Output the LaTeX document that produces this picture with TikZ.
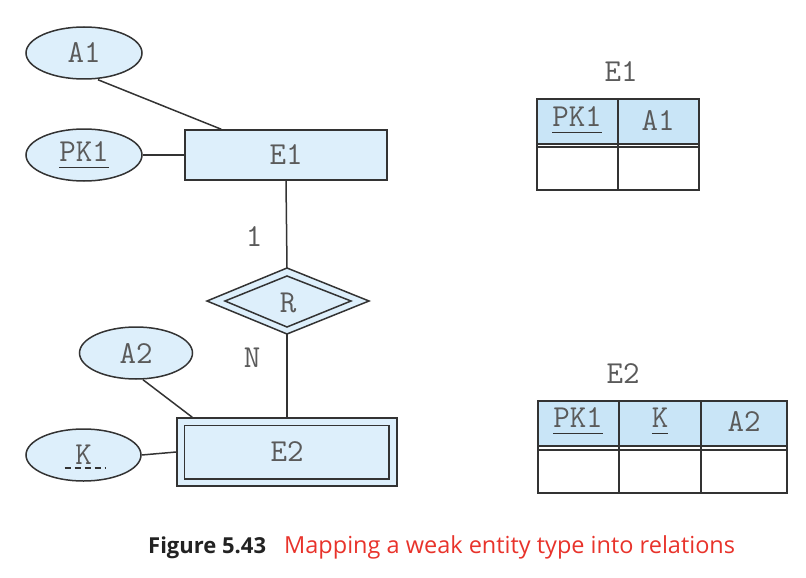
\documentclass[tikz,border=0pt]{standalone}
\usepackage{fontspec}
\newfontfamily\capfont{Open Sans}
\usetikzlibrary{shapes.geometric,calc}
\definecolor{fillb}{HTML}{DDEFFB}
\definecolor{headb}{HTML}{C9E5F7}
\definecolor{txt}{HTML}{5A5A5A}
\definecolor{ln}{HTML}{333333}
\definecolor{capred}{HTML}{E8332B}
\definecolor{capdark}{HTML}{222222}
\newcommand\myul[1]{\setbox0\hbox{#1}\rlap{\color{ln}\rule[-7pt]{\wd0}{1.6pt}}\box0}
\begin{document}
\begin{tikzpicture}[x=1pt,y=-1pt,
  every node/.style={font=\ttfamily\fontsize{32}{34}\selectfont, text=txt},
  attr/.style={ellipse, draw=ln, line width=1.5pt, fill=fillb, minimum width=116pt, minimum height=52pt, inner sep=0pt},
  ent/.style={rectangle, draw=ln, line width=1.5pt, fill=fillb, inner sep=0pt},
  conn/.style={draw=ln, line width=1.5pt},
  tline/.style={draw=ln, line width=1.6pt},
  lbl/.style={inner sep=0pt}]
\useasboundingbox (0,0) rectangle (806,578);

% ---- ER diagram ----
\node[attr] (A1) at (84,53) {A1};
\node[attr] (PK1) at (84,155) {\myul{PK1}};
\node[ent, minimum width=202pt, minimum height=50pt] (E1) at (286,155) {E1};

% relationship R (identifying)
\coordinate (Rc) at (287,301);
\coordinate (Rtop) at (287,268);
\coordinate (Rbot) at (287,334);
\filldraw[fill=fillb, draw=ln, line width=1.5pt] (207,301) -- (Rtop) -- (369,301) -- (Rbot) -- cycle;
\draw[ln, line width=1.5pt] (225,301) -- (287,276) -- (351,301) -- (287,327) -- cycle;
\node[lbl] (R) at (288,303) {R};

\node[attr, minimum width=113pt] (A2) at (136,353) {A2};
\node[attr, minimum width=115pt] (K) at (83.5,455) {K};
\draw[ln, line width=1.6pt, dash pattern=on 6pt off 4pt] ($(K.center)+(-19,13)$) -- ($(K.center)+(22,13)$);

\node[ent, minimum width=220pt, minimum height=68pt] (E2) at (287,452) {};
\draw[ln, line width=1.5pt] ($(E2.north west)+(8,8)$) rectangle ($(E2.south east)+(-9,-8)$);
\node[lbl] (E2t) at (E2.center) {E2};

\coordinate (E1a) at ($(E1.north west)+(37,0)$);
\coordinate (E2a) at ($(E2.north west)+(16,0)$);
\draw[conn] ($(A1.south)+(14,0)$) -- (E1a);
\draw[conn] (PK1.east) -- (E1.west);
\draw[conn] (E1.south) -- (Rtop);
\draw[conn] (Rbot) -- (E2.north);
\draw[conn] ($(A2.south)+(7,0)$) -- (E2a);
\draw[conn] (K.east) -- (E2.west);

\node[lbl] (one) at (254,237) {1};
\node[lbl] (N) at (252,358) {N};

% ---- relation E1 ----
\node[lbl] (T1) at (621,72) {E1};
\fill[headb] (537,99) rectangle (699,144);
\draw[tline] (537,99) rectangle (699,190);
\draw[tline] (537,144) -- (699,144);
\draw[tline] (537,147) -- (699,147);
\draw[tline] (618,99) -- (618,190);
\node[lbl] (T1a) at (577,120) {\myul{PK1}};
\node[lbl] (T1b) at (658,120) {A1};

% ---- relation E2 ----
\node[lbl] (T2) at (623,374) {E2};
\fill[headb] (538,401) rectangle (787,446);
\draw[tline] (538,401) rectangle (787,493);
\draw[tline] (538,446) -- (787,446);
\draw[tline] (538,450) -- (787,450);
\draw[tline] (619,401) -- (619,493);
\draw[tline] (701,401) -- (701,493);
\node[lbl] (T2a) at (578,421) {\myul{PK1}};
\node[lbl] (T2b) at (660,421) {\myul{K}};
\node[lbl] (T2c) at (744,421) {A2};

% ---- caption ----
\node[anchor=base west, inner sep=0pt, font=\capfont\bfseries\fontsize{22}{26}\selectfont, text=capdark] (cap1) at (148,553) {Figure 5.43};
\node[anchor=base west, inner sep=0pt, font=\capfont\fontsize{23.5}{27}\selectfont, text=capred] (cap2) at (284,553) {Mapping a weak entity type into relations};
\end{tikzpicture}
\end{document}
